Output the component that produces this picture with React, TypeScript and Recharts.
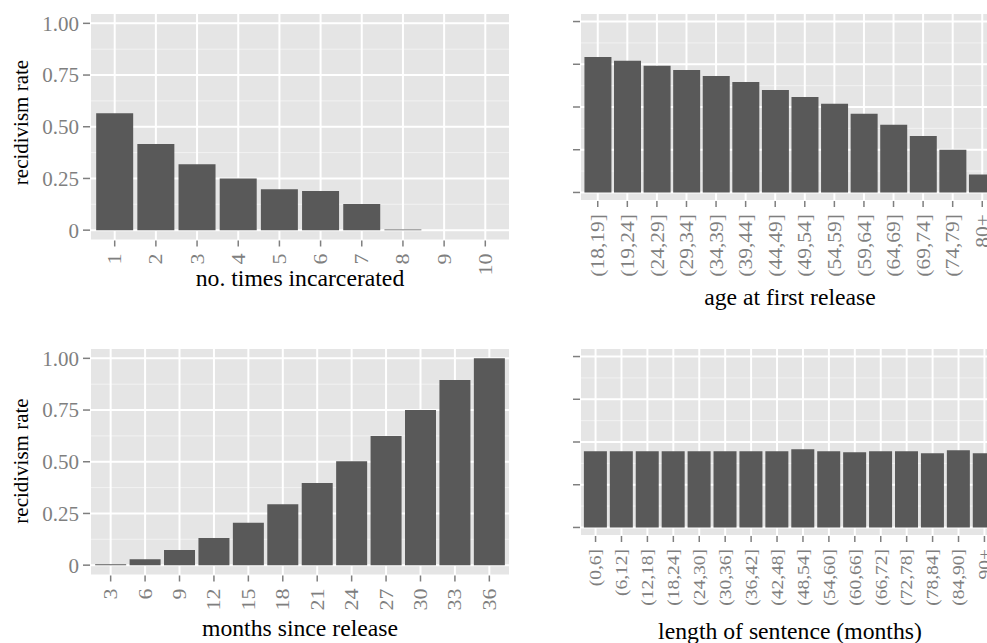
import React from "react";
import { BarChart, Bar, XAxis, YAxis, CartesianGrid } from "recharts";

const FONT = '"Liberation Serif", "Times New Roman", serif';
const PANEL = "#E5E5E5";
const MINOR = "#F2F2F2";
const BAR = "#595959";
const TICK = "#7F7F7F";

// values
const timesCats = ["1", "2", "3", "4", "5", "6", "7", "8", "9", "10"];
const timesRates = [0.565, 0.416, 0.319, 0.25, 0.198, 0.189, 0.126, 0.003, 0, 0];

const ageCats = ["(18,19]", "(19,24]", "(24,29]", "(29,34]", "(34,39]", "(39,44]", "(44,49]",
  "(49,54]", "(54,59]", "(59,64]", "(64,69]", "(69,74]", "(74,79]", "80+"];
const ageRates = [0.793, 0.77, 0.741, 0.717, 0.682, 0.647, 0.6, 0.559, 0.519, 0.46, 0.396, 0.331, 0.25, 0.105];

const monthCats = ["3", "6", "9", "12", "15", "18", "21", "24", "27", "30", "33", "36"];
const monthRates = [0.005, 0.029, 0.073, 0.131, 0.205, 0.295, 0.397, 0.503, 0.624, 0.75, 0.895, 1.0];

const sentCats = ["(0,6]", "(6,12]", "(12,18]", "(18,24]", "(24,30]", "(30,36]", "(36,42]", "(42,48]",
  "(48,54]", "(54,60]", "(60,66]", "(66,72]", "(72,78]", "(78,84]", "(84,90]", "90+"];
const sentRates = [0.446, 0.446, 0.446, 0.446, 0.446, 0.446, 0.446, 0.446, 0.457, 0.446, 0.44, 0.446,
  0.446, 0.434, 0.451, 0.434];

const yTicks = [0, 0.25, 0.5, 0.75, 1];
const yMinor = [0.125, 0.375, 0.625, 0.875];

const toRows = (cats: string[], vals: number[]) => cats.map((c, i) => ({ name: c, rate: vals[i] }));

// rotated x labels, end of text next to the axis
const rotTick = (size: number, squash: number) => (p: any) => (
  <g transform={`translate(${p.x},${p.y}) rotate(-90) scale(1,${squash})`}>
    <text x={0} y={0} dy={size * 0.35} textAnchor="end" fill={TICK}
      style={{ fontSize: `${size}px`, fontFamily: FONT }}>
      {p.payload.value}
    </text>
  </g>
);

const yLabel = (p: any) => (
  <text x={p.x} y={p.y} dy={21 * 0.35} textAnchor="end" fill={TICK}
    style={{ fontSize: "21px", fontFamily: FONT }}>
    {p.payload.value === 0 ? "0" : p.payload.value.toFixed(2)}
  </text>
);
const noLabel = () => <g />;

function Panel({
  cats, vals, width, height, top, plotBottom, yWidth, showY, labelSize, squash,
}: {
  cats: string[]; vals: number[]; width: number; height: number; top: number; plotBottom: number;
  yWidth: number; showY: boolean; labelSize: number; squash: number;
}) {
  const plotW = 420;
  const unit = plotW / (cats.length + 0.2);
  const pad = unit * 0.1;
  return (
    <BarChart width={width} height={height} data={toRows(cats, vals)}
      margin={{ top, right: width - yWidth - plotW, left: 0, bottom: 0 }} barCategoryGap="5%">
      <YAxis yAxisId="minor" hide type="number" domain={[-0.05, 1.05]} ticks={yMinor} allowDataOverflow />
      <CartesianGrid yAxisId="minor" vertical={false} fill={PANEL} fillOpacity={1} stroke={MINOR} strokeWidth={1} />
      <CartesianGrid stroke="#FFFFFF" strokeWidth={2} />
      <XAxis dataKey="name" interval={0} height={height - plotBottom} axisLine={false}
        tickSize={6} tickMargin={7} tickLine={{ stroke: TICK, strokeWidth: 1.5 }}
        padding={{ left: pad, right: pad }}
        tick={rotTick(labelSize, squash)} />
      <YAxis type="number" domain={[-0.05, 1.05]} ticks={yTicks} allowDataOverflow width={yWidth}
        axisLine={false} tickSize={7} tickMargin={4} tickLine={{ stroke: TICK, strokeWidth: 1.5 }}
        tick={showY ? yLabel : noLabel} />
      <Bar dataKey="rate" fill={BAR} isAnimationActive={false} />
    </BarChart>
  );
}

export default function App() {
  const title = { fontFamily: FONT, fill: "#000", fontSize: 23.7 } as const;
  return (
    <div style={{ position: "absolute", left: 0, top: 0, width: 987, height: 643, overflow: "hidden", background: "#fff" }}>
      <div style={{ position: "absolute", left: 0, top: 0 }}>
        <Panel cats={timesCats} vals={timesRates} width={520} height={320} top={13} plotBottom={240.5}
          yWidth={90} showY labelSize={22} squash={0.85} />
      </div>
      <div style={{ position: "absolute", left: 520, top: 0 }}>
        <Panel cats={ageCats} vals={ageRates} width={490} height={320} top={13} plotBottom={201}
          yWidth={60} showY={false} labelSize={21.5} squash={0.88} />
      </div>
      <div style={{ position: "absolute", left: 0, top: 320 }}>
        <Panel cats={monthCats} vals={monthRates} width={520} height={323} top={28} plotBottom={255.5}
          yWidth={90} showY labelSize={22} squash={0.85} />
      </div>
      <div style={{ position: "absolute", left: 520, top: 320 }}>
        <Panel cats={sentCats} vals={sentRates} width={490} height={323} top={28} plotBottom={216}
          yWidth={60} showY={false} labelSize={19.5} squash={0.85} />
      </div>
      <svg width={987} height={643} style={{ position: "absolute", left: 0, top: 0, pointerEvents: "none" }}>
        <text x={300} y={286} textAnchor="middle" {...title}>no. times incarcerated</text>
        <text x={790} y={304.5} textAnchor="middle" {...title}>age at first release</text>
        <text x={300} y={635.5} textAnchor="middle" {...title}>months since release</text>
        <text x={790} y={638.5} textAnchor="middle" {...title}>length of sentence (months)</text>
        <text x={28} y={122.5} transform="rotate(-90 28 122.5)" textAnchor="middle" fontFamily={FONT} fontSize={21}>recidivism rate</text>
        <text x={28} y={461} transform="rotate(-90 28 461)" textAnchor="middle" fontFamily={FONT} fontSize={21}>recidivism rate</text>
      </svg>
    </div>
  );
}
